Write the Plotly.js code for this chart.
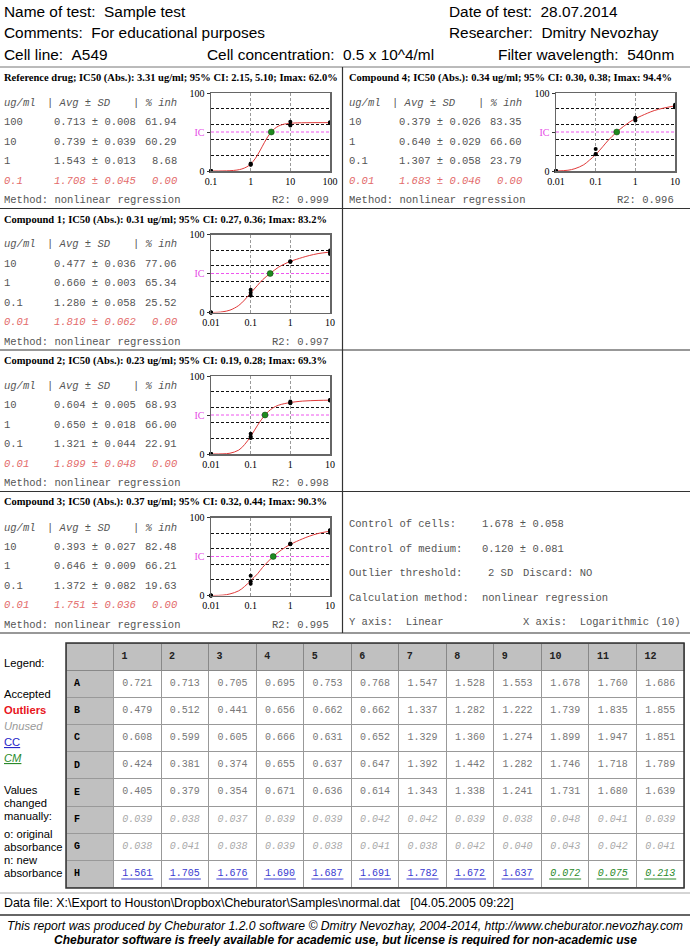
<!DOCTYPE html>
<html>
<head>
<meta charset="utf-8">
<script src="https://cdn.plot.ly/plotly-3.0.1.min.js"></script>
<style>
html, body { margin: 0; padding: 0; background: #fff; }
#report { width: 690px; height: 946px; }
</style>
</head>
<body>
<div id="report"></div>
<script>
// ---- data ----
const compounds = ['Reference drug', 'Compound 1', 'Compound 2', 'Compound 3', 'Compound 4'];
const ic50 = [3.31, 0.31, 0.23, 0.37, 0.34];
const ciLow = [2.15, 0.27, 0.19, 0.32, 0.30];
const ciHigh = [5.10, 0.36, 0.28, 0.44, 0.38];
const imax = [62.0, 83.2, 69.3, 90.3, 94.4];
const r2 = [0.999, 0.997, 0.998, 0.995, 0.996];

const doses = [
    [100, 10, 1, 0.1],
    [10, 1, 0.1, 0.01],
    [10, 1, 0.1, 0.01],
    [10, 1, 0.1, 0.01],
    [10, 1, 0.1, 0.01]
];
const absAvg = [
    [0.713, 0.739, 1.543, 1.708],
    [0.477, 0.660, 1.280, 1.810],
    [0.604, 0.650, 1.321, 1.899],
    [0.393, 0.646, 1.372, 1.751],
    [0.379, 0.640, 1.307, 1.683]
];
const absSD = [
    [0.008, 0.039, 0.013, 0.045],
    [0.036, 0.003, 0.058, 0.062],
    [0.005, 0.018, 0.044, 0.048],
    [0.027, 0.009, 0.082, 0.036],
    [0.026, 0.029, 0.058, 0.046]
];
const inhPct = [
    [61.94, 60.29, 8.68, 0.00],
    [77.06, 65.34, 25.52, 0.00],
    [68.93, 66.00, 22.91, 0.00],
    [82.48, 66.21, 19.63, 0.00],
    [83.35, 66.60, 23.79, 0.00]
];
// replicate % inhibition, 3 wells per dose (same dose order as above)
const repInh = [
    [61.42, 61.94, 62.45, 63.09, 59.37, 58.41, 8.41, 9.63, 8.02, 0, 0, 0],
    [76.96, 74.84, 79.40, 65.60, 65.21, 65.21, 21.89, 25.42, 29.27, 0, 0, 0],
    [68.68, 69.26, 68.87, 64.96, 67.20, 65.85, 22.40, 20.41, 25.93, 0, 0, 0],
    [80.49, 83.25, 83.70, 65.66, 66.82, 66.17, 18.36, 15.15, 25.42, 0, 0, 0],
    [81.71, 83.38, 84.98, 64.63, 66.88, 68.29, 21.50, 21.82, 28.05, 0, 0, 0]
];
// fitted curves
const curveX = [
    [0.1, 0.2, 0.3, 0.45, 0.6, 0.8, 1, 1.3, 1.7, 2.2, 2.7, 3.31, 4, 5, 6.5, 8, 10, 15, 25, 50, 100],
    [0.01, 0.015, 0.02, 0.03, 0.05, 0.07, 0.1, 0.15, 0.2, 0.31, 0.5, 0.7, 1, 2, 3, 5, 10],
    [0.01, 0.02, 0.03, 0.05, 0.07, 0.1, 0.15, 0.23, 0.35, 0.5, 0.7, 1, 2, 5, 10],
    [0.01, 0.02, 0.03, 0.05, 0.07, 0.1, 0.15, 0.2, 0.37, 0.6, 1, 2, 3, 5, 10],
    [0.01, 0.02, 0.03, 0.05, 0.07, 0.1, 0.15, 0.2, 0.34, 0.5, 0.7, 1, 2, 3, 5, 10]
];
const curveY = [
    [0, 0.1, 0.4, 1.2, 2.6, 5.3, 9.0, 15.8, 25.6, 36.2, 43.9, 50.0, 54.2, 57.5, 59.7, 60.6, 61.2, 61.7, 61.9, 62.0, 62.0],
    [0, 0.3, 1, 3, 9, 16, 25, 35, 42, 50, 58, 62, 65.5, 70.5, 73, 75.5, 77.5],
    [0, 0.2, 1, 5, 12, 22.5, 37, 50, 58.5, 62.5, 64.5, 66, 67.8, 68.7, 69],
    [0, 0.5, 2, 6, 11.5, 19, 28, 36, 50, 58.5, 65.5, 72.5, 76, 79.5, 82.5],
    [0, 1, 3, 8, 14, 21, 31, 38.5, 50, 57, 62.5, 67, 74, 77.5, 80.5, 83.5]
];
const doseTicks = [
    [0.1, 1, 10, 100],
    [0.01, 0.1, 1, 10],
    [0.01, 0.1, 1, 10],
    [0.01, 0.1, 1, 10],
    [0.01, 0.1, 1, 10]
];

const plateRows = ['A', 'B', 'C', 'D', 'E', 'F', 'G', 'H'];
const plateCols = ['1', '2', '3', '4', '5', '6', '7', '8', '9', '10', '11', '12'];
const plate = [
    [0.721, 0.713, 0.705, 0.695, 0.753, 0.768, 1.547, 1.528, 1.553, 1.678, 1.760, 1.686],
    [0.479, 0.512, 0.441, 0.656, 0.662, 0.662, 1.337, 1.282, 1.222, 1.739, 1.835, 1.855],
    [0.608, 0.599, 0.605, 0.666, 0.631, 0.652, 1.329, 1.360, 1.274, 1.899, 1.947, 1.851],
    [0.424, 0.381, 0.374, 0.655, 0.637, 0.647, 1.392, 1.442, 1.282, 1.746, 1.718, 1.789],
    [0.405, 0.379, 0.354, 0.671, 0.636, 0.614, 1.343, 1.338, 1.241, 1.731, 1.680, 1.639],
    [0.039, 0.038, 0.037, 0.039, 0.039, 0.042, 0.042, 0.039, 0.038, 0.048, 0.041, 0.039],
    [0.038, 0.041, 0.038, 0.039, 0.038, 0.041, 0.038, 0.042, 0.040, 0.043, 0.042, 0.041],
    [1.561, 1.705, 1.676, 1.690, 1.687, 1.691, 1.782, 1.672, 1.637, 0.072, 0.075, 0.213]
];
const controlCells = [1.678, 0.058];
const controlMedium = [0.120, 0.081];

// ---- page helpers ----
const W = 690, H = 946;
const SANS = 'Liberation Sans, Arial, sans-serif';
const SERIF = 'Liberation Serif, Times New Roman, serif';
const MONO = 'Liberation Mono, Courier New, monospace';
const GREY = '#555';
const RED = '#e36b6b';
const NB = '\u00a0';

const annotations = [];
const shapes = [];
function txt(text, x, y, font, xanchor) {
    annotations.push({
        text: text, x: x / W, y: 1 - y / H, xref: 'paper', yref: 'paper',
        showarrow: false, xanchor: xanchor || 'left', yanchor: 'middle', font: font
    });
}
function hline(y, x0, x1, color, width) {
    shapes.push({type: 'line', xref: 'paper', yref: 'paper', x0: x0 / W, x1: x1 / W,
        y0: 1 - y / H, y1: 1 - y / H, line: {color: color, width: width}});
}

// header
const hf = {family: SANS, size: 15.4, color: '#000'};
txt('Name of test:' + NB + NB + 'Sample test', 2, 11, hf);
txt('Date of test:' + NB + NB + '28.07.2014', 447, 11, hf);
txt('Comments:' + NB + NB + 'For educational purposes', 2, 33, hf);
txt('Researcher:' + NB + NB + 'Dmitry Nevozhay', 447, 33, hf);
txt('Cell line:' + NB + NB + 'A549', 2, 55, hf);
txt('Cell concentration:' + NB + NB + '0.5 x 10^4/ml', 205, 55, hf);
txt('Filter wavelength:' + NB + NB + '540nm', 496, 55, hf);

// panel slots (compound order)
const slots = [
    {L: 67, left: 0, box: [211, 330]},
    {L: 208.5, left: 0, box: [211, 330]},
    {L: 350, left: 0, box: [211, 330]},
    {L: 491.5, left: 0, box: [211, 330]},
    {L: 67, left: 345, box: [556, 675]}
];

hline(67, 0, 690, '#777', 1);
[208.5, 350, 491.5, 633].forEach(y => hline(y, 0, 690, '#333', 1.2));
shapes.push({type: 'line', xref: 'paper', yref: 'paper', x0: 342.5 / W, x1: 342.5 / W,
    y0: 1 - 67 / H, y1: 1 - 633 / H, line: {color: '#333', width: 1.2}});

const mono = {family: MONO, size: 10.5, color: GREY};
const monoRed = {family: MONO, size: 10.5, color: RED};
const traces = [];
const layout = {
    width: W, height: H,
    margin: {l: 0, r: 0, t: 0, b: 0},
    paper_bgcolor: 'white', plot_bgcolor: 'white',
    showlegend: false
};

compounds.forEach((name, i) => {
    const s = slots[i];
    const x0 = s.left + 2, L = s.L;
    const title = name + '; IC50 (Abs.): ' + ic50[i].toFixed(2) + ' ug/ml; 95% CI: ' +
        ciLow[i].toFixed(2) + ', ' + ciHigh[i].toFixed(2) + '; Imax: ' + imax[i].toFixed(1) + '%';
    txt('<b>' + title + '</b>', x0, L + 11, {family: SERIF, size: 10.5, color: '#000'});
    txt('<i>ug/ml</i>', x0, L + 36, mono);
    txt('<i>|' + NB + 'Avg ± SD</i>', x0 + 43, L + 36, mono);
    txt('<i>|' + NB + '% inh</i>', x0 + 177, L + 36, mono, 'right');
    doses[i].forEach((d, j) => {
        const y = L + 55 + 19.6 * j;
        const last = j === doses[i].length - 1;
        const f = last ? monoRed : mono;
        const w = s => last ? '<i>' + s + '</i>' : s;
        txt(w(String(d)), x0, y, f);
        txt(w(absAvg[i][j].toFixed(3) + ' ± ' + absSD[i][j].toFixed(3)), x0 + 50, y, f);
        txt(w(inhPct[i][j].toFixed(2)), x0 + 177, y, f, 'right');
    });
    txt('Method:' + NB + 'nonlinear' + NB + 'regression', x0, L + 133, mono);
    txt('R2:' + NB + r2[i].toFixed(3), x0 + 329, L + 133, mono, 'right');

    // small dose-response plot
    const n = i + 1;
    const xid = n === 1 ? 'x' : 'x' + n;
    const yid = n === 1 ? 'y' : 'y' + n;
    const xa = n === 1 ? 'xaxis' : 'xaxis' + n;
    const ya = n === 1 ? 'yaxis' : 'yaxis' + n;
    const ticks = doseTicks[i];

    traces.push({
        x: curveX[i], y: curveY[i], xaxis: xid, yaxis: yid,
        mode: 'lines', line: {color: '#e03a3a', width: 1, shape: 'spline', smoothing: 1},
        hoverinfo: 'none'
    });
    traces.push({
        x: doses[i].flatMap(d => [d, d, d]), y: repInh[i], xaxis: xid, yaxis: yid,
        mode: 'markers', marker: {color: '#000', size: 4},
        cliponaxis: false, hoverinfo: 'none'
    });
    traces.push({
        x: [ic50[i]], y: [50], xaxis: xid, yaxis: yid,
        mode: 'markers', marker: {color: '#1f8a1f', size: 6, line: {color: '#0a3a0a', width: 0.5}},
        hoverinfo: 'none'
    });

    layout[xa] = {
        type: 'log', anchor: yid, fixedrange: true,
        domain: [s.box[0] / W, s.box[1] / W],
        range: [Math.log10(ticks[0]), Math.log10(ticks[ticks.length - 1])],
        tickmode: 'array', tickvals: ticks, ticktext: ticks.map(String),
        tickfont: {family: SERIF, size: 10, color: '#000'},
        showline: true, mirror: true, linecolor: '#666', linewidth: 1.5,
        showgrid: false, zeroline: false, ticks: '',
        minor: {tickmode: 'array', tickvals: ticks.slice(1, -1), showgrid: true,
            gridcolor: '#999', griddash: '3px,2px', gridwidth: 1, ticks: ''}
    };
    layout[ya] = {
        anchor: xid, fixedrange: true,
        domain: [1 - (L + 104) / H, 1 - (L + 26) / H],
        range: [0, 100],
        tickmode: 'array', tickvals: [0, 50, 100],
        ticktext: ['0', '<span style="color:#e64ce6">IC</span>', '100'],
        tickfont: {family: SERIF, size: 10, color: '#000'},
        showline: true, mirror: true, linecolor: '#666', linewidth: 1.5,
        showgrid: false, zeroline: false, ticks: 'outside', ticklen: 3, tickcolor: '#333',
        minor: {tickmode: 'array', tickvals: [20, 40, 60, 80], showgrid: true,
            gridcolor: '#111', griddash: '3px,2px', gridwidth: 1, ticks: ''}
    };
    shapes.push({
        type: 'line', layer: 'below', xref: xid + ' domain', x0: 0, x1: 1,
        yref: yid, y0: 50, y1: 50, line: {color: '#ee55ee', width: 1, dash: '3px,2px'}
    });
});

// right-hand info panel
const ix = 347, iy = 524, istep = 24.5;
txt('Control of cells:', ix, iy, mono);
txt(controlCells[0].toFixed(3) + ' ± ' + controlCells[1].toFixed(3), 480, iy, mono);
txt('Control of medium:', ix, iy + istep, mono);
txt(controlMedium[0].toFixed(3) + ' ± ' + controlMedium[1].toFixed(3), 480, iy + istep, mono);
txt('Outlier threshold:', ix, iy + 2 * istep, mono);
txt('2' + NB + 'SD', 486, iy + 2 * istep, mono);
txt('Discard:' + NB + 'NO', 521, iy + 2 * istep, mono);
txt('Calculation method:', ix, iy + 3 * istep, mono);
txt('nonlinear' + NB + 'regression', 480, iy + 3 * istep, mono);
txt('Y axis:' + NB + NB + 'Linear', ix, iy + 4 * istep, mono);
txt('X axis:' + NB + NB + 'Logarithmic (10)', 521, iy + 4 * istep, mono);

// plate legend
const LS = 11.2;
const lf = {family: SANS, size: LS, color: '#000'};
txt('Legend:', 2, 663, lf);
txt('Accepted', 2, 694, lf);
txt('<b>Outliers</b>', 2, 710, {family: SANS, size: LS, color: '#e8141c'});
txt('<i>Unused</i>', 2, 726, {family: SANS, size: LS, color: '#999'});
txt('<span style="text-decoration:underline">CC</span>', 2, 742, {family: SANS, size: LS, color: '#2727c8'});
txt('<i><span style="text-decoration:underline">CM</span></i>', 2, 758, {family: SANS, size: LS, color: '#2a8a2a'});
['Values', 'changed', 'manually:'].forEach((t, k) => txt(t, 2, 790 + 13 * k, lf));
['o: original', 'absorbance', 'n: new', 'absorbance'].forEach((t, k) => txt(t, 2, 834 + 13 * k, lf));

// plate table
const tLeft = 66, tRight = 684, tTop = 643, headH = 26, rowH = 27.2;
const colW = (tRight - tLeft) / (plateCols.length + 1);
const cellText = [plateRows.map(r => '<b>' + r + '</b>')];
const cellColor = [plateRows.map(() => '#000')];
plateCols.forEach((c, ci) => {
    cellText.push(plateRows.map((r, ri) => {
        const v = plate[ri][ci].toFixed(3);
        if (r === 'F' || r === 'G' || (r === 'H' && ci >= 9)) return '<i>' + v + '</i>';
        return v;
    }));
    cellColor.push(plateRows.map((r, ri) => {
        if (r === 'F' || r === 'G') return '#aaa';
        if (r === 'H') return ci >= 9 ? '#2a8a2a' : '#3a3ad0';
        return '#777';
    }));
    // underline for control wells (row H)
    const cx = tLeft + (ci + 1.5) * colW;
    const uy = tTop + headH + 7.5 * rowH + 6;
    shapes.push({type: 'line', xref: 'paper', yref: 'paper',
        x0: (cx - 16) / W, x1: (cx + 16) / W, y0: 1 - uy / H, y1: 1 - uy / H,
        line: {color: ci >= 9 ? '#2a8a2a' : '#3a3ad0', width: 1}});
});
traces.push({
    type: 'table',
    domain: {x: [tLeft / W, tRight / W], y: [1 - 889 / H, 1 - tTop / H]},
    columnwidth: cellText.map(() => 1),
    header: {
        values: [''].concat(plateCols.map(c => '<b>' + c + '</b>')),
        height: headH, align: 'left',
        fill: {color: '#c0c0c0'}, line: {color: '#888', width: 1},
        font: {family: MONO, size: 10, color: '#222'}
    },
    cells: {
        values: cellText, height: rowH,
        align: ['left'].concat(plateCols.map(() => 'center')),
        fill: {color: ['#c0c0c0'].concat(plateCols.map(() => '#fff'))},
        line: {color: '#999', width: 1},
        font: {family: MONO, size: 10, color: cellColor}
    }
});
shapes.push({type: 'rect', xref: 'paper', yref: 'paper', x0: tLeft / W, x1: tRight / W,
    y0: 1 - 888 / H, y1: 1 - tTop / H, line: {color: '#333', width: 1.5}});

// footer
hline(893, 0, 690, '#aaa', 1);
txt('Data file: X:\\Export to Houston\\Dropbox\\Cheburator\\Samples\\normal.dat' + NB + NB + NB + '[04.05.2005 09:22]',
    2, 903, {family: SANS, size: 12.4, color: '#000'});
hline(915, 0, 690, '#333', 1.5);
txt('<i>This report was produced by Cheburator 1.2.0 software © Dmitry Nevozhay, 2004-2014, http://www.cheburator.nevozhay.com</i>',
    345, 926, {family: SANS, size: 12.2, color: '#000'}, 'center');
txt('<b><i>Cheburator software is freely available for academic use, but license is required for non-academic use</i></b>',
    345, 940, {family: SANS, size: 12, color: '#000'}, 'center');

layout.annotations = annotations;
layout.shapes = shapes;

Plotly.newPlot('report', traces, layout, {displayModeBar: false, staticPlot: true});
</script>
</body>
</html>
